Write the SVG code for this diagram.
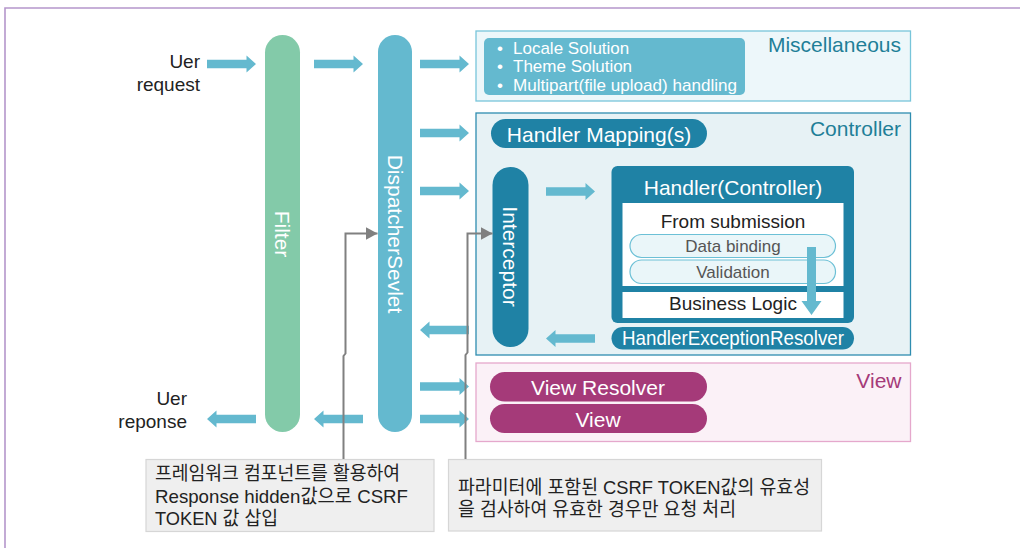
<svg xmlns="http://www.w3.org/2000/svg" xmlns:xlink="http://www.w3.org/1999/xlink" width="1020" height="548" viewBox="0 0 1020 548">
  <style>
    text { font-family: "Liberation Sans", "Noto Sans CJK KR", sans-serif; }
    .frame { fill: none; stroke: #b596cb; stroke-width: 1.6; }
    .flow { fill: #64b9cf; }
    .pill-green { fill: #83caa9; }
    .pill-light { fill: #64b9cf; }
    .pill-dark { fill: #1f82a5; }
    .pill-view { fill: #a53a79; }
    .white { fill: #ffffff; }
    .vlabel { fill: #ffffff; font-size: 21px; text-anchor: middle; dominant-baseline: central; }
    .plabel { fill: #ffffff; font-size: 21px; text-anchor: middle; }
    .side { fill: #222222; font-size: 19px; text-anchor: end; }
    .sec-misc { fill: #edf7fa; stroke: #78c5da; stroke-width: 1.3; }
    .sec-ctrl { fill: #e7f2f5; stroke: #2f8db0; stroke-width: 1.3; }
    .sec-view { fill: #fbf1f7; stroke: #e5a8cc; stroke-width: 1.3; }
    .sec-title { font-size: 21px; text-anchor: end; }
    .sub { fill: #eaf6f9; stroke: #6cc0d6; stroke-width: 1.2; }
    .sub-text { fill: #555555; font-size: 17px; text-anchor: middle; }
    .dark-text { fill: #222222; font-size: 19px; text-anchor: middle; }
    .bullet { fill: #ffffff; font-size: 17px; }
    .note { fill: #efefef; stroke: #d6d6d6; stroke-width: 1.2; }
    .note-text { fill: #222222; font-size: 19px; }
    .link { fill: none; stroke: #808080; stroke-width: 2; }
  </style>
  <defs>
    <!-- flow arrow, 49px long, pointing right from the origin -->
    <path id="arrow" d="M0,-4.3 H39.5 V-8.6 L49,0 L39.5,8.6 V4.3 H0 Z"/>
    <marker id="head" markerUnits="userSpaceOnUse" markerWidth="13" markerHeight="13" viewBox="0 0 13 13" refX="12" refY="6.5" orient="auto">
      <path d="M0,0 L12,6.5 L0,13 Z" fill="#808080"/>
    </marker>
  </defs>

  <!-- outer frame -->
  <path class="frame" d="M5,548 V8 H1020"/>

  <!-- request / response side labels -->
  <g id="user-request">
    <text class="side" x="200" y="68">Uer</text>
    <text class="side" x="200" y="91">request</text>
  </g>
  <g id="user-response">
    <text class="side" x="187" y="405">Uer</text>
    <text class="side" x="187" y="428">reponse</text>
  </g>

  <g id="filter">
    <rect class="pill-green" x="265" y="35" width="35" height="397" rx="17.5"/>
    <text class="vlabel" transform="translate(282.5,234) rotate(90)">Filter</text>
  </g>

  <g id="dispatcher-servlet">
    <rect class="pill-light" x="378" y="35" width="34" height="397" rx="17"/>
    <text class="vlabel" transform="translate(395,234) rotate(90)">DispatcherSevlet</text>
  </g>

  <g id="miscellaneous">
    <rect class="sec-misc" x="476" y="31" width="434.5" height="70"/>
    <rect class="pill-light" x="484" y="38" width="261" height="57" rx="5"/>
    <text class="bullet" x="497" y="54">•</text>
    <text class="bullet" x="513" y="54">Locale Solution</text>
    <text class="bullet" x="497" y="72">•</text>
    <text class="bullet" x="513" y="72">Theme Solution</text>
    <text class="bullet" x="497" y="91">•</text>
    <text class="bullet" x="513" y="91" textLength="224" lengthAdjust="spacingAndGlyphs">Multipart(file upload) handling</text>
    <text class="sec-title" x="901" y="52" fill="#1f7f98">Miscellaneous</text>
  </g>

  <g id="controller">
    <rect class="sec-ctrl" x="476" y="113" width="434.5" height="242"/>
    <text class="sec-title" x="901" y="136" fill="#1f7f98">Controller</text>
  </g>

  <g id="handler-mapping">
    <rect class="pill-dark" x="491" y="119" width="216" height="29" rx="14.5"/>
    <text class="plabel" x="599" y="141.5">Handler Mapping(s)</text>
  </g>

  <g id="interceptor">
    <rect class="pill-dark" x="492.5" y="167" width="36" height="180" rx="18"/>
    <text class="vlabel" transform="translate(510.5,256.5) rotate(90)">Interceptor</text>
  </g>

  <g id="handler">
    <rect class="pill-dark" x="611.5" y="166" width="242.5" height="157" rx="6"/>
    <text class="plabel" x="733" y="195">Handler(Controller)</text>
    <rect class="white" x="622.5" y="203" width="221" height="83"/>
    <text class="dark-text" x="733" y="228">From submission</text>
    <rect class="sub" x="630" y="234.5" width="205.5" height="23" rx="11.5"/>
    <text class="sub-text" x="733" y="252">Data binding</text>
    <rect class="sub" x="630" y="260" width="205.5" height="23.5" rx="11.5"/>
    <text class="sub-text" x="733" y="278">Validation</text>
    <rect class="white" x="622.5" y="292" width="221" height="26"/>
    <text class="dark-text" x="733" y="310">Business Logic</text>
    <path class="flow" d="M807,247 H816 V301 H821.5 L811.5,315 L801.5,301 H807 Z"/>
  </g>

  <g id="handler-exception-resolver">
    <rect class="pill-dark" x="611.5" y="327" width="242.5" height="22.5" rx="11.25"/>
    <text class="plabel" x="733" y="345" font-size="19" textLength="222" lengthAdjust="spacingAndGlyphs">HandlerExceptionResolver</text>
  </g>

  <g id="view-section">
    <rect class="sec-view" x="476" y="363" width="434.5" height="78.5"/>
    <text class="sec-title" x="901.5" y="388" fill="#a53a79">View</text>
  </g>

  <g id="view-resolver">
    <rect class="pill-view" x="490" y="372" width="217" height="29.5" rx="14.75"/>
    <text class="plabel" x="598" y="395">View Resolver</text>
  </g>

  <g id="view">
    <rect class="pill-view" x="490" y="404" width="217" height="29" rx="14.5"/>
    <text class="plabel" x="598" y="427">View</text>
  </g>

  <g id="note-response">
    <rect class="note" x="146" y="459.5" width="288" height="72"/>
    <text class="note-text" x="155" y="480" textLength="245" lengthAdjust="spacingAndGlyphs">프레임워크 컴포넌트를 활용하여</text>
    <text class="note-text" x="155" y="502.5" textLength="253" lengthAdjust="spacingAndGlyphs">Response hidden값으로 CSRF</text>
    <text class="note-text" x="155" y="525" textLength="123" lengthAdjust="spacingAndGlyphs">TOKEN 값 삽입</text>
  </g>

  <g id="note-request">
    <rect class="note" x="448.5" y="459.5" width="373" height="71.5"/>
    <text class="note-text" x="458" y="493.5" textLength="352" lengthAdjust="spacingAndGlyphs">파라미터에 포함된 CSRF TOKEN값의 유효성</text>
    <text class="note-text" x="458" y="515.5" textLength="278" lengthAdjust="spacingAndGlyphs">을 검사하여 유효한 경우만 요청 처리</text>
  </g>

  <g id="connectors">
    <!-- request flow -->
    <use xlink:href="#arrow" href="#arrow" class="flow" transform="translate(207,64)"/>
    <use xlink:href="#arrow" href="#arrow" class="flow" transform="translate(314,64)"/>
    <use xlink:href="#arrow" href="#arrow" class="flow" transform="translate(420,64)"/>
    <use xlink:href="#arrow" href="#arrow" class="flow" transform="translate(420,133)"/>
    <use xlink:href="#arrow" href="#arrow" class="flow" transform="translate(420,191)"/>
    <use xlink:href="#arrow" href="#arrow" class="flow" transform="translate(546,191.5)"/>
    <use xlink:href="#arrow" href="#arrow" class="flow" transform="translate(420,386.5)"/>
    <use xlink:href="#arrow" href="#arrow" class="flow" transform="translate(420,419)"/>
    <!-- response flow -->
    <use xlink:href="#arrow" href="#arrow" class="flow" transform="translate(595,338.5) scale(-1,1)"/>
    <use xlink:href="#arrow" href="#arrow" class="flow" transform="translate(469,330) scale(-1,1)"/>
    <use xlink:href="#arrow" href="#arrow" class="flow" transform="translate(363,419) scale(-1,1)"/>
    <use xlink:href="#arrow" href="#arrow" class="flow" transform="translate(256,419) scale(-1,1)"/>
    <!-- CSRF note links -->
    <path class="link" d="M343.5,459 V356 L345.5,353.5 V233.5 H377.5" marker-end="url(#head)"/>
    <path class="link" d="M465.5,459 V355 L467.5,352.5 V233.5 H492.5" marker-end="url(#head)"/>
  </g>
</svg>
